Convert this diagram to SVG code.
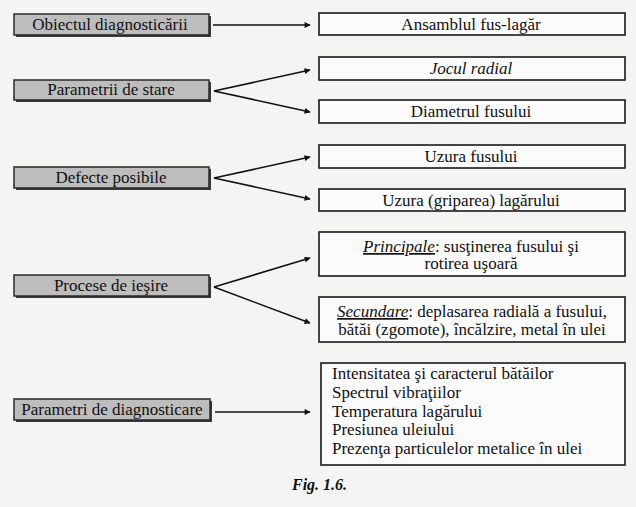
<svg xmlns="http://www.w3.org/2000/svg" width="636" height="507" viewBox="0 0 636 507" font-family="Liberation Serif, serif">
<defs>
<style>
.lbox{fill:#bdbdbd;stroke:#2a2a2a;stroke-width:1.5}
.shadow{fill:#3a3a3a}
.rbox{fill:#fbfbfb;stroke:#1a1a1a;stroke-width:1.6}
.t{fill:#111;font-size:17px}
.c{text-anchor:middle}
.con{stroke:#111;stroke-width:1.6;fill:none}
</style>
<marker id="ah" viewBox="0 0 10 10" refX="9" refY="5" markerWidth="7" markerHeight="6" orient="auto" markerUnits="userSpaceOnUse">
<path d="M0,0 L10,5 L0,10 z" fill="#111"/>
</marker>
</defs>
<rect width="636" height="507" fill="#f4f4f2"/>

<g id="obiectul">
<rect class="shadow" x="16" y="16" width="195" height="21"/>
<rect class="lbox" x="14" y="14" width="195" height="21"/>
<text class="t c" x="110" y="30">Obiectul diagnosticării</text>
</g>
<g id="parametrii-stare">
<rect class="shadow" x="16" y="82" width="195" height="20"/>
<rect class="lbox" x="14" y="80" width="195" height="20"/>
<text class="t c" x="111" y="95">Parametrii de stare</text>
</g>
<g id="defecte">
<rect class="shadow" x="16" y="169" width="195" height="21"/>
<rect class="lbox" x="14" y="167" width="195" height="21"/>
<text class="t c" x="111" y="183">Defecte posibile</text>
</g>
<g id="procese">
<rect class="shadow" x="16" y="277" width="195" height="21"/>
<rect class="lbox" x="14" y="275" width="195" height="21"/>
<text class="t c" x="111" y="291">Procese de ieşire</text>
</g>
<g id="parametri-diag">
<rect class="shadow" x="16" y="401" width="196" height="21"/>
<rect class="lbox" x="14" y="399" width="196" height="21"/>
<text class="t c" x="112" y="415">Parametri de diagnosticare</text>
</g>

<g id="ansamblul">
<rect class="rbox" x="319" y="13" width="306" height="22"/>
<text class="t c" x="471" y="30">Ansamblul fus-lagăr</text>
</g>
<g id="jocul">
<rect class="rbox" x="319" y="57" width="306" height="23"/>
<text class="t c" x="471" y="74" font-style="italic">Jocul radial</text>
</g>
<g id="diametrul">
<rect class="rbox" x="319" y="100" width="306" height="23"/>
<text class="t c" x="471" y="117">Diametrul fusului</text>
</g>
<g id="uzura-fus">
<rect class="rbox" x="319" y="145" width="306" height="23"/>
<text class="t c" x="471" y="162">Uzura fusului</text>
</g>
<g id="uzura-lagar">
<rect class="rbox" x="319" y="189" width="306" height="22"/>
<text class="t c" x="471" y="206">Uzura (griparea) lagărului</text>
</g>
<g id="principale">
<rect class="rbox" x="319" y="232" width="306" height="44"/>
<text class="t c" x="471" y="252"><tspan font-style="italic" text-decoration="underline">Principale</tspan>: susţinerea fusului şi</text>
<text class="t c" x="471" y="269">rotirea uşoară</text>
</g>
<g id="secundare">
<rect class="rbox" x="319" y="297" width="306" height="45"/>
<text class="t c" x="472" y="317"><tspan font-style="italic" text-decoration="underline">Secundare</tspan>: deplasarea radială a fusului,</text>
<text class="t c" x="472" y="335">bătăi (zgomote), încălzire, metal în ulei</text>
</g>
<g id="diag-list">
<rect class="rbox" x="321" y="363" width="304" height="102"/>
<text class="t" x="332" y="379">Intensitatea şi caracterul bătăilor</text>
<text class="t" x="332" y="398">Spectrul vibraţiilor</text>
<text class="t" x="332" y="417">Temperatura lagărului</text>
<text class="t" x="332" y="435">Presiunea uleiului</text>
<text class="t" x="332" y="454">Prezenţa particulelor metalice în ulei</text>
</g>

<g id="connectors">
<line class="con" x1="213" y1="25" x2="310" y2="25" marker-end="url(#ah)"/>
<line class="con" x1="214" y1="91" x2="310" y2="70" marker-end="url(#ah)"/>
<line class="con" x1="214" y1="91" x2="310" y2="112" marker-end="url(#ah)"/>
<line class="con" x1="214" y1="178" x2="310" y2="157" marker-end="url(#ah)"/>
<line class="con" x1="214" y1="178" x2="310" y2="199" marker-end="url(#ah)"/>
<line class="con" x1="214" y1="287" x2="310" y2="258" marker-end="url(#ah)"/>
<line class="con" x1="214" y1="287" x2="310" y2="323" marker-end="url(#ah)"/>
<line class="con" x1="215" y1="412" x2="310" y2="412" marker-end="url(#ah)"/>
</g>

<text x="292" y="490" font-size="16" font-weight="bold" font-style="italic" fill="#111">Fig. 1.6.</text>
</svg>
